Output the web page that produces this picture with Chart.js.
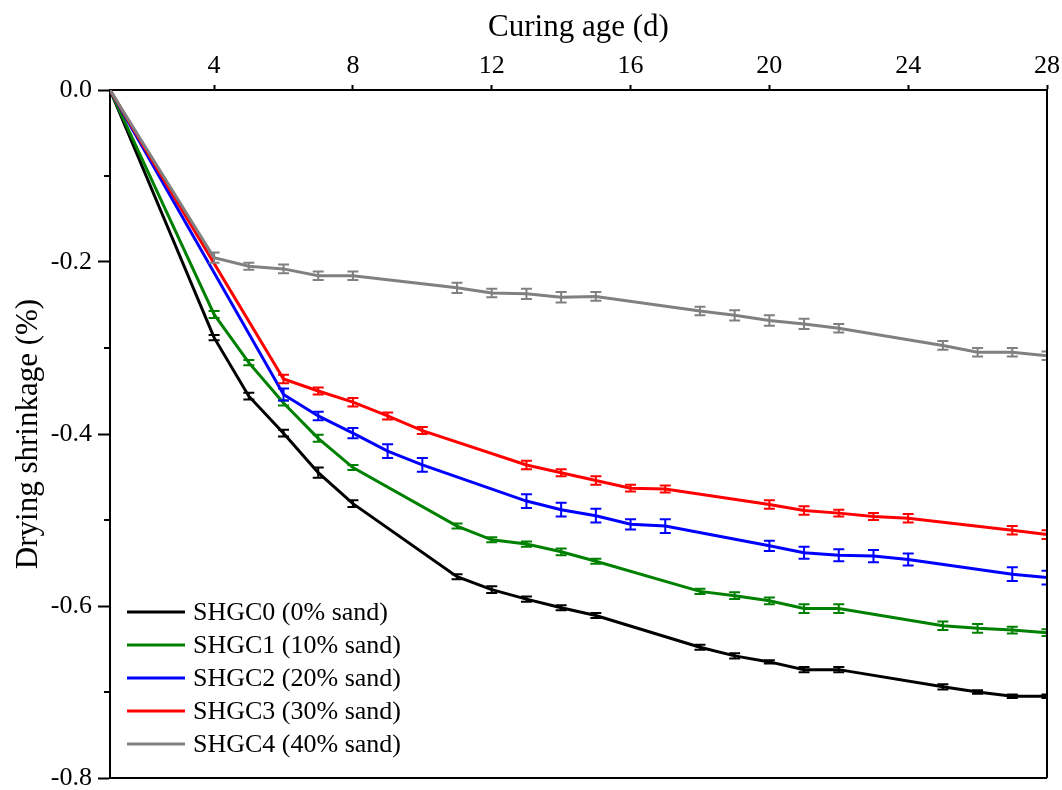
<!DOCTYPE html>
<html>
<head>
<meta charset="utf-8">
<script src="https://cdn.jsdelivr.net/npm/chart.js@4.4.1/dist/chart.umd.min.js"></script>
<style>
  html,body{margin:0;padding:0;background:#fff;}
  #wrap{width:1062px;height:790px;}
</style>
</head>
<body>
<div id="wrap"><canvas id="c" width="1062" height="790"></canvas></div>
<script>
'use strict';
// curing days (SHGC0/1/4 and SHGC2/3 were measured on different days)
const daysA=[1,4,5,6,7,8,11,12,13,14,15,18,19,20,21,22,25,26,27,28];
const daysB=[1,6,7,8,9,10,13,14,15,16,17,20,21,22,23,24,27,28];
const xTicks=[4,8,12,16,20,24,28];

const labels=['SHGC0 (0% sand)','SHGC1 (10% sand)','SHGC2 (20% sand)','SHGC3 (30% sand)','SHGC4 (40% sand)'];
const colors=['#000000','#008000','#0000ff','#ff0000','#808080'];

const shgc0=[0,-0.288,-0.356,-0.399,-0.445,-0.481,-0.566,-0.581,-0.592,-0.602,-0.611,-0.648,-0.658,-0.665,-0.674,-0.674,-0.694,-0.700,-0.705,-0.705];
const shgc1=[0,-0.261,-0.317,-0.364,-0.405,-0.439,-0.507,-0.523,-0.528,-0.537,-0.548,-0.583,-0.588,-0.594,-0.603,-0.603,-0.623,-0.626,-0.628,-0.631];
const shgc2=[0,-0.354,-0.379,-0.399,-0.420,-0.436,-0.478,-0.488,-0.495,-0.505,-0.507,-0.530,-0.538,-0.541,-0.542,-0.546,-0.563,-0.567];
const shgc3=[0,-0.336,-0.350,-0.363,-0.379,-0.396,-0.436,-0.445,-0.454,-0.463,-0.464,-0.482,-0.489,-0.492,-0.496,-0.498,-0.512,-0.517];
const shgc4=[0,-0.195,-0.205,-0.208,-0.216,-0.216,-0.230,-0.236,-0.237,-0.241,-0.240,-0.257,-0.262,-0.268,-0.272,-0.277,-0.297,-0.305,-0.305,-0.309];

// error bar half heights
const err0=[0,0.003,0.004,0.004,0.006,0.004,0.003,0.004,0.003,0.003,0.003,0.003,0.003,0.002,0.003,0.003,0.003,0.002,0.002,0.002];
const err1=[0,0.004,0.003,0.003,0.004,0.003,0.003,0.003,0.003,0.004,0.003,0.003,0.004,0.004,0.005,0.005,0.005,0.005,0.004,0.004];
const err2=[0,0.007,0.005,0.006,0.008,0.008,0.008,0.008,0.008,0.006,0.008,0.006,0.007,0.007,0.007,0.007,0.008,0.008];
const err3=[0,0.005,0.004,0.005,0.004,0.004,0.005,0.004,0.005,0.004,0.004,0.005,0.005,0.004,0.004,0.005,0.005,0.005];
const err4=[0,0.006,0.004,0.005,0.005,0.005,0.006,0.005,0.006,0.006,0.005,0.005,0.006,0.006,0.006,0.005,0.005,0.005,0.005,0.005];

const FONT='"Liberation Serif","Times New Roman",serif';

function pts(days,vals,errs){
  return days.map((d,i)=>({x:d,y:vals[i],e:errs[i]}));
}
function ds(i,data,order){
  return {label:labels[i],data,borderColor:colors[i],backgroundColor:colors[i],
    borderWidth:3,pointRadius:0,tension:0,order};
}

const errorBars={
  id:'errorBars',
  afterDatasetsDraw(chart){
    const {ctx,chartArea:a,scales:{x,y}}=chart;
    ctx.save();
    ctx.beginPath();ctx.rect(a.left,a.top,a.right-a.left,a.bottom-a.top);ctx.clip();
    ctx.lineWidth=2;
    chart.data.datasets.forEach(d=>{
      ctx.strokeStyle=d.borderColor;
      d.data.forEach(p=>{
        if(!p.e) return;
        const px=x.getPixelForValue(p.x);
        const t=y.getPixelForValue(p.y+p.e), b=y.getPixelForValue(p.y-p.e);
        ctx.beginPath();
        ctx.moveTo(px,t);ctx.lineTo(px,b);
        ctx.moveTo(px-5.5,t);ctx.lineTo(px+5.5,t);
        ctx.moveTo(px-5.5,b);ctx.lineTo(px+5.5,b);
        ctx.stroke();
      });
    });
    ctx.restore();
  }
};

const frame={
  id:'frame',
  afterDraw(chart){
    const {ctx,chartArea:a,scales:{y}}=chart;
    ctx.save();
    ctx.strokeStyle='#000';ctx.lineWidth=2;
    ctx.beginPath();
    ctx.moveTo(a.left,a.bottom);ctx.lineTo(a.right,a.bottom);
    ctx.moveTo(a.right,a.top);ctx.lineTo(a.right,a.bottom);
    // minor y ticks
    [-0.1,-0.3,-0.5,-0.7].forEach(v=>{
      const py=y.getPixelForValue(v);
      ctx.moveTo(a.left-6,py);ctx.lineTo(a.left,py);
    });
    ctx.stroke();
    // legend
    ctx.font='26px '+FONT;
    ctx.textBaseline='middle';
    ctx.fillStyle='#000';
    chart.data.datasets.slice().sort((p,q)=>labels.indexOf(p.label)-labels.indexOf(q.label)).forEach((d,i)=>{
      const ly=612+i*33;
      ctx.strokeStyle=d.borderColor;ctx.lineWidth=3;
      ctx.beginPath();ctx.moveTo(127,ly);ctx.lineTo(185,ly);ctx.stroke();
      ctx.fillText(d.label,193,ly+1);
    });
    ctx.restore();
  }
};

new Chart(document.getElementById('c').getContext('2d'),{
  type:'line',
  data:{datasets:[
    ds(0,pts(daysA,shgc0,err0),5),
    ds(1,pts(daysA,shgc1,err1),4),
    ds(2,pts(daysB,shgc2,err2),3),
    ds(3,pts(daysB,shgc3,err3),2),
    ds(4,pts(daysA,shgc4,err4),1)
  ]},
  options:{
    responsive:false,
    animation:false,
    layout:{padding:{left:0,right:15,top:0,bottom:12}},
    plugins:{legend:{display:false},tooltip:{enabled:false}},
    scales:{
      x:{
        type:'linear',position:'top',min:1,max:28,
        afterBuildTicks(s){ s.ticks=xTicks.map(v=>({value:v})); },
        afterFit(s){ s.height=90; s.paddingLeft=0; s.paddingRight=0; },
        grid:{drawOnChartArea:false,drawTicks:true,tickLength:5,tickColor:'#000',tickWidth:2},
        border:{display:true,color:'#000',width:2},
        ticks:{color:'#000',font:{family:FONT,size:26,lineHeight:1},padding:6,maxRotation:0},
        title:{display:true,text:'Curing age (d)',color:'#000',font:{family:FONT,size:31},padding:{top:9,bottom:0}}
      },
      y:{
        min:-0.8,max:0,
        afterFit(s){ s.width=110; s.paddingTop=0; s.paddingBottom=0; },
        grid:{drawOnChartArea:false,drawTicks:true,tickLength:12,tickColor:'#000',tickWidth:2},
        border:{display:true,color:'#000',width:2},
        ticks:{stepSize:0.2,color:'#000',font:{family:FONT,size:26,lineHeight:1},padding:6,
          callback:v=>v.toFixed(1)},
        title:{display:true,text:'Drying shrinkage (%)',color:'#000',font:{family:FONT,size:31},padding:{top:10,bottom:0}}
      }
    }
  },
  plugins:[errorBars,frame]
});
</script>
</body>
</html>
